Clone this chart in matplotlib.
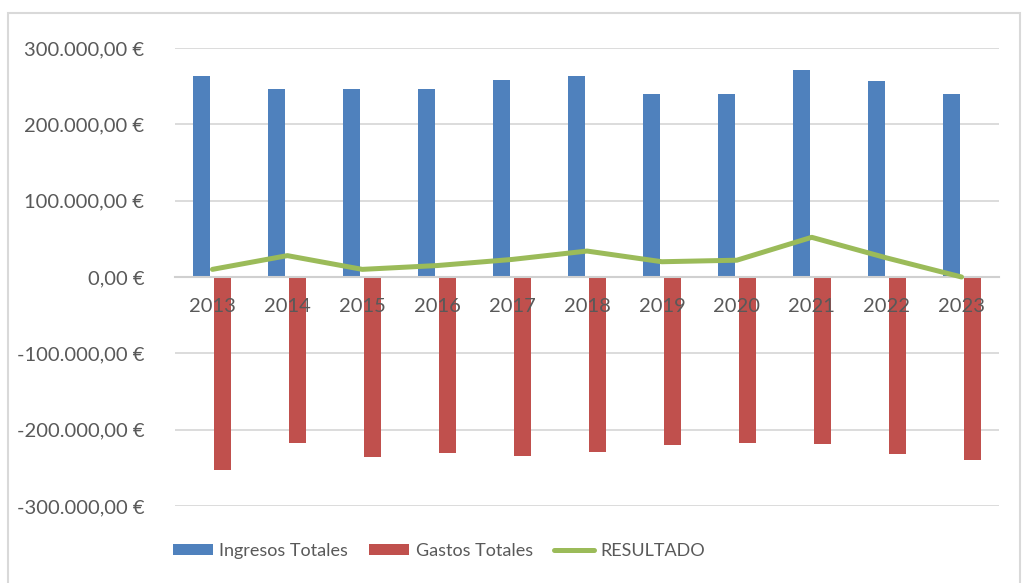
import matplotlib
matplotlib.use('Agg')
import matplotlib.pyplot as plt
from matplotlib.ticker import FuncFormatter, MultipleLocator
from matplotlib.patches import Rectangle
import numpy as np

years = ['2013', '2014', '2015', '2016', '2017', '2018', '2019', '2020', '2021', '2022', '2023']
ingresos = [263000, 246000, 246000, 246000, 258000, 263000, 240000, 240000, 271000, 257000, 240000]
gastos = [-253000, -218000, -236000, -231000, -235000, -229000, -220000, -218000, -219000, -232000, -240000]
resultado = [10000, 28000, 10000, 15000, 23000, 34000, 20000, 22000, 52000, 25000, 0]

plt.rcParams['font.family'] = ['Lato', 'DejaVu Sans']
txt_color = '#595959'

fig = plt.figure(figsize=(10.25, 5.83), dpi=100)
ax = fig.add_axes([175/1025, 1-506/583, 824/1025, 458/583])

x = np.arange(len(years))
w = 0.227
b1 = ax.bar(x - 0.14, ingresos, w, color='#4F81BD', label='Ingresos Totales', zorder=2)
b2 = ax.bar(x + 0.14, gastos, w, color='#C0504D', label='Gastos Totales', zorder=2)
l1, = ax.plot(x, resultado, color='#9BBB59', lw=3.6, label='RESULTADO', zorder=3,
              solid_capstyle='round')

ax.set_xlim(-0.5, len(years) - 0.5)
ax.set_ylim(-300000, 300000)
ax.yaxis.set_major_locator(MultipleLocator(100000))

def euro(v, pos):
    s = '{:,.2f}'.format(v).replace(',', 'X').replace('.', ',').replace('X', '.')
    return s + ' €'

ax.yaxis.set_major_formatter(FuncFormatter(euro))
ax.grid(axis='y', color='#D9D9D9', lw=1.3)
ax.set_axisbelow(True)

for s in ['top', 'right', 'left']:
    ax.spines[s].set_visible(False)
ax.spines['bottom'].set_position(('data', 0))
ax.spines['bottom'].set_color('#D0D0D0')
ax.spines['bottom'].set_linewidth(1.5)

ax.set_xticks(x)
ax.set_xticklabels(years)
ax.tick_params(axis='x', length=0, pad=15, labelsize=14.5, labelcolor=txt_color)
ax.tick_params(axis='y', length=0, pad=22, labelsize=14.5, labelcolor=txt_color)
ax.xaxis.set_zorder(5)

fig.legend([b1, b2, l1], ['Ingresos Totales', 'Gastos Totales', 'RESULTADO'],
           loc='center', bbox_to_anchor=(439/1025, 1-551/583), ncol=3, frameon=False,
           fontsize=13, labelcolor=txt_color, handlelength=2.2, handleheight=0.6,
           handletextpad=0.35, columnspacing=1.2)

fig.patches.append(Rectangle((8/1025, -0.05), 1012/1025, 1.05 - 13/583,
                             transform=fig.transFigure, fill=False,
                             edgecolor='#D9D9D9', lw=1.5))

fig.savefig('out.png', dpi=100)
